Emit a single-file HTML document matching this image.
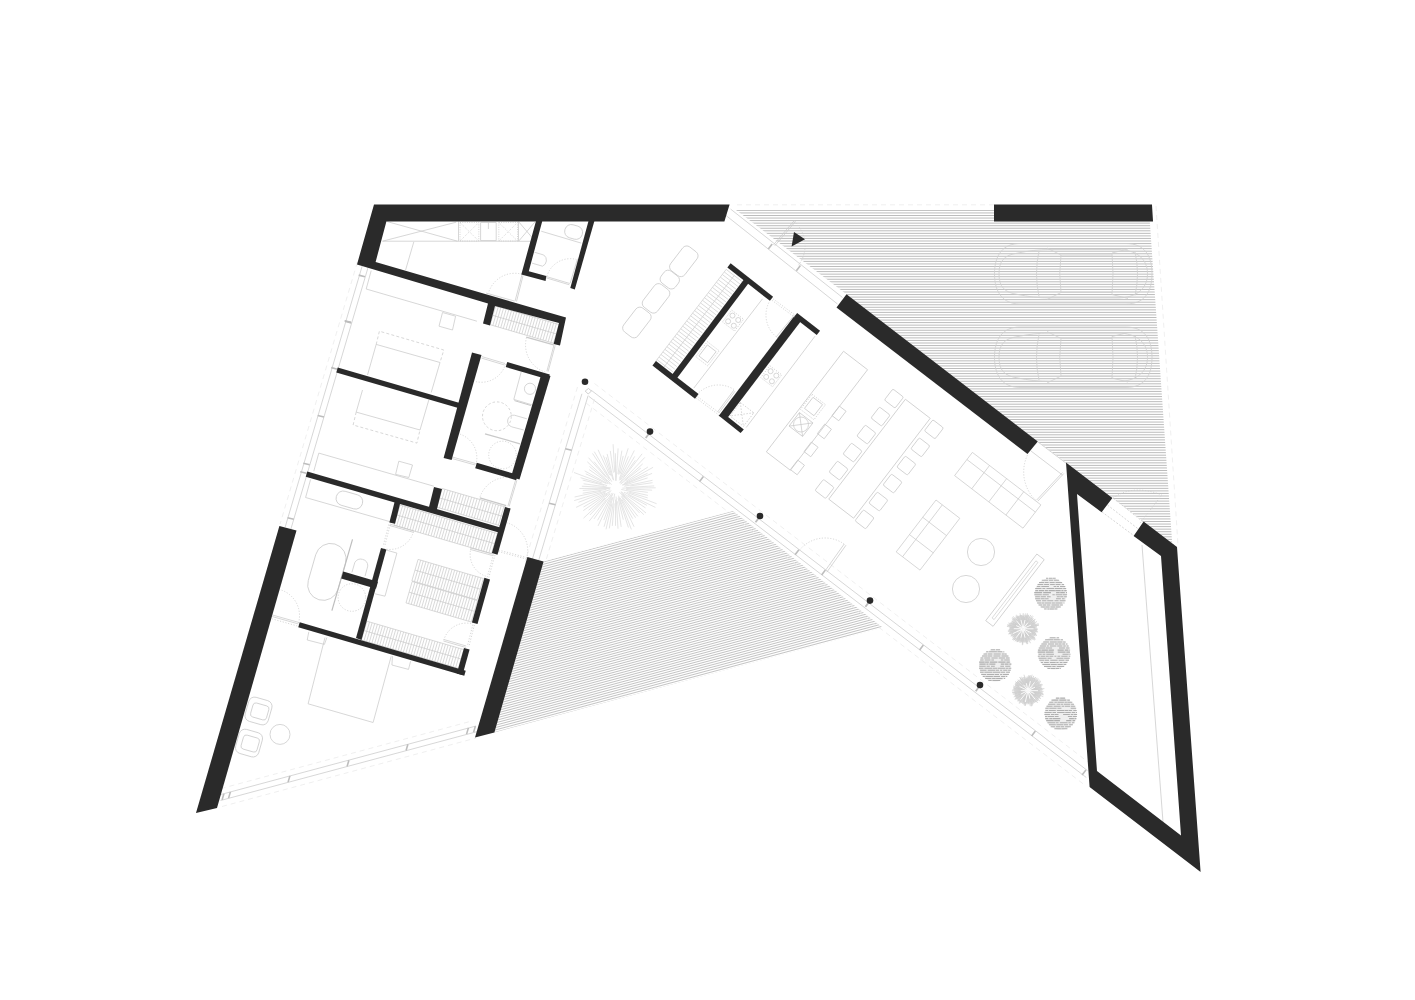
<!DOCTYPE html>
<html><head><meta charset="utf-8"><title>Floor plan</title>
<style>html,body{margin:0;padding:0;background:#fff;}svg{display:block;}</style>
</head><body>
<svg width="1415" height="1000" viewBox="0 0 1415 1000">
<rect width="1415" height="1000" fill="#ffffff"/>
<defs><clipPath id="cA"><polygon points="736.0,210.0 1149.0,210.0 1172.5,548.0 1177.0,547.0 1066.0,462.6 1037.8,441.5 846.5,294.3"/></clipPath><clipPath id="cB"><polygon points="543.6,561.6 733.0,511.0 882.6,627.4 494.4,732.4"/></clipPath></defs>
<path clip-path="url(#cA)" d="M730 210.40H1180M730 212.95H1180M730 215.50H1180M730 218.05H1180M730 220.60H1180M730 223.15H1180M730 225.70H1180M730 228.25H1180M730 230.80H1180M730 233.35H1180M730 235.90H1180M730 238.45H1180M730 241.00H1180M730 243.55H1180M730 246.10H1180M730 248.65H1180M730 251.20H1180M730 253.75H1180M730 256.30H1180M730 258.85H1180M730 261.40H1180M730 263.95H1180M730 266.50H1180M730 269.05H1180M730 271.60H1180M730 274.15H1180M730 276.70H1180M730 279.25H1180M730 281.80H1180M730 284.35H1180M730 286.90H1180M730 289.45H1180M730 292.00H1180M730 294.55H1180M730 297.10H1180M730 299.65H1180M730 302.20H1180M730 304.75H1180M730 307.30H1180M730 309.85H1180M730 312.40H1180M730 314.95H1180M730 317.50H1180M730 320.05H1180M730 322.60H1180M730 325.15H1180M730 327.70H1180M730 330.25H1180M730 332.80H1180M730 335.35H1180M730 337.90H1180M730 340.45H1180M730 343.00H1180M730 345.55H1180M730 348.10H1180M730 350.65H1180M730 353.20H1180M730 355.75H1180M730 358.30H1180M730 360.85H1180M730 363.40H1180M730 365.95H1180M730 368.50H1180M730 371.05H1180M730 373.60H1180M730 376.15H1180M730 378.70H1180M730 381.25H1180M730 383.80H1180M730 386.35H1180M730 388.90H1180M730 391.45H1180M730 394.00H1180M730 396.55H1180M730 399.10H1180M730 401.65H1180M730 404.20H1180M730 406.75H1180M730 409.30H1180M730 411.85H1180M730 414.40H1180M730 416.95H1180M730 419.50H1180M730 422.05H1180M730 424.60H1180M730 427.15H1180M730 429.70H1180M730 432.25H1180M730 434.80H1180M730 437.35H1180M730 439.90H1180M730 442.45H1180M730 445.00H1180M730 447.55H1180M730 450.10H1180M730 452.65H1180M730 455.20H1180M730 457.75H1180M730 460.30H1180M730 462.85H1180M730 465.40H1180M730 467.95H1180M730 470.50H1180M730 473.05H1180M730 475.60H1180M730 478.15H1180M730 480.70H1180M730 483.25H1180M730 485.80H1180M730 488.35H1180M730 490.90H1180M730 493.45H1180M730 496.00H1180M730 498.55H1180M730 501.10H1180M730 503.65H1180M730 506.20H1180M730 508.75H1180M730 511.30H1180M730 513.85H1180M730 516.40H1180M730 518.95H1180M730 521.50H1180M730 524.05H1180M730 526.60H1180M730 529.15H1180M730 531.70H1180M730 534.25H1180M730 536.80H1180M730 539.35H1180M730 541.90H1180M730 544.45H1180M730 547.00H1180M730 549.55H1180" stroke="#b8b8b8" stroke-width="0.95" fill="none"/>
<path clip-path="url(#cB)" d="M331.10 618.84L978.27 445.43M331.68 621.03L978.85 447.62M332.27 623.23L979.44 449.82M332.86 625.42L980.03 452.01M333.45 627.61L980.62 454.20M334.03 629.80L981.20 456.39M334.62 632.00L981.79 458.59M335.21 634.19L982.38 460.78M335.80 636.38L982.97 462.97M336.38 638.57L983.55 465.17M336.97 640.77L984.14 467.36M337.56 642.96L984.73 469.55M338.15 645.15L985.32 471.74M338.73 647.34L985.90 473.94M339.32 649.54L986.49 476.13M339.91 651.73L987.08 478.32M340.50 653.92L987.67 480.51M341.08 656.12L988.25 482.71M341.67 658.31L988.84 484.90M342.26 660.50L989.43 487.09M342.85 662.69L990.02 489.28M343.43 664.89L990.60 491.48M344.02 667.08L991.19 493.67M344.61 669.27L991.78 495.86M345.20 671.46L992.37 498.06M345.78 673.66L992.95 500.25M346.37 675.85L993.54 502.44M346.96 678.04L994.13 504.63M347.55 680.23L994.72 506.83M348.13 682.43L995.30 509.02M348.72 684.62L995.89 511.21M349.31 686.81L996.48 513.40M349.90 689.01L997.07 515.60M350.48 691.20L997.65 517.79M351.07 693.39L998.24 519.98M351.66 695.58L998.83 522.17M352.25 697.78L999.42 524.37M352.83 699.97L1000.00 526.56M353.42 702.16L1000.59 528.75M354.01 704.35L1001.18 530.94M354.60 706.55L1001.77 533.14M355.18 708.74L1002.35 535.33M355.77 710.93L1002.94 537.52M356.36 713.12L1003.53 539.72M356.95 715.32L1004.12 541.91M357.53 717.51L1004.70 544.10M358.12 719.70L1005.29 546.29M358.71 721.89L1005.88 548.49M359.30 724.09L1006.47 550.68M359.88 726.28L1007.06 552.87M360.47 728.47L1007.64 555.06M361.06 730.67L1008.23 557.26M361.65 732.86L1008.82 559.45M362.23 735.05L1009.41 561.64M362.82 737.24L1009.99 563.83M363.41 739.44L1010.58 566.03M364.00 741.63L1011.17 568.22M364.58 743.82L1011.76 570.41M365.17 746.01L1012.34 572.61M365.76 748.21L1012.93 574.80M366.35 750.40L1013.52 576.99M366.93 752.59L1014.11 579.18M367.52 754.78L1014.69 581.38M368.11 756.98L1015.28 583.57M368.70 759.17L1015.87 585.76M369.29 761.36L1016.46 587.95M369.87 763.56L1017.04 590.15M370.46 765.75L1017.63 592.34M371.05 767.94L1018.22 594.53M371.64 770.13L1018.81 596.72M372.22 772.33L1019.39 598.92M372.81 774.52L1019.98 601.11M373.40 776.71L1020.57 603.30M373.99 778.90L1021.16 605.49M374.57 781.10L1021.74 607.69M375.16 783.29L1022.33 609.88M375.75 785.48L1022.92 612.07M376.34 787.67L1023.51 614.27M376.92 789.87L1024.09 616.46M377.51 792.06L1024.68 618.65M378.10 794.25L1025.27 620.84M378.69 796.44L1025.86 623.04M379.27 798.64L1026.44 625.23M379.86 800.83L1027.03 627.42M380.45 803.02L1027.62 629.61M381.04 805.22L1028.21 631.81M381.62 807.41L1028.79 634.00M382.21 809.60L1029.38 636.19M382.80 811.79L1029.97 638.38M383.39 813.99L1030.56 640.58M383.97 816.18L1031.14 642.77M384.56 818.37L1031.73 644.96M385.15 820.56L1032.32 647.16M385.74 822.76L1032.91 649.35M386.32 824.95L1033.49 651.54M386.91 827.14L1034.08 653.73M387.50 829.33L1034.67 655.93M388.09 831.53L1035.26 658.12M388.67 833.72L1035.84 660.31M389.26 835.91L1036.43 662.50M389.85 838.11L1037.02 664.70M390.44 840.30L1037.61 666.89M391.02 842.49L1038.19 669.08M391.61 844.68L1038.78 671.27M392.20 846.88L1039.37 673.47M392.79 849.07L1039.96 675.66M393.37 851.26L1040.54 677.85M393.96 853.45L1041.13 680.05M394.55 855.65L1041.72 682.24M395.14 857.84L1042.31 684.43M395.72 860.03L1042.89 686.62M396.31 862.22L1043.48 688.82M396.90 864.42L1044.07 691.01M397.49 866.61L1044.66 693.20M398.07 868.80L1045.24 695.39" stroke="#bcbcbc" stroke-width="0.90" fill="none"/>
<line x1="382.5" y1="241.2" x2="516.9" y2="241.2" stroke="#c9c9c9" stroke-width="0.75"/>
<line x1="517.0" y1="241.3" x2="532.0" y2="241.3" stroke="#c9c9c9" stroke-width="0.75"/>
<line x1="386.9" y1="221.5" x2="457.5" y2="241.2" stroke="#c9c9c9" stroke-width="0.75"/>
<line x1="382.5" y1="241.2" x2="456.2" y2="222.2" stroke="#c9c9c9" stroke-width="0.75"/>
<line x1="458.5" y1="221.5" x2="458.5" y2="241.2" stroke="#c9c9c9" stroke-width="0.75"/>
<polygon points="460.0,222.5 478.8,222.5 478.8,241.0 460.0,241.0" fill="none" stroke="#c9c9c9" stroke-width="0.75" stroke-dasharray="1 1.3"/>
<line x1="460.0" y1="222.5" x2="478.8" y2="241.0" stroke="#c9c9c9" stroke-width="0.75" stroke-dasharray="1 1.3"/>
<line x1="460.0" y1="241.0" x2="478.8" y2="222.5" stroke="#c9c9c9" stroke-width="0.75" stroke-dasharray="1 1.3"/>
<polygon points="498.8,222.5 517.5,222.5 517.5,241.0 498.8,241.0" fill="none" stroke="#c9c9c9" stroke-width="0.75" stroke-dasharray="1 1.3"/>
<line x1="498.8" y1="222.5" x2="517.5" y2="241.0" stroke="#c9c9c9" stroke-width="0.75" stroke-dasharray="1 1.3"/>
<line x1="498.8" y1="241.0" x2="517.5" y2="222.5" stroke="#c9c9c9" stroke-width="0.75" stroke-dasharray="1 1.3"/>
<polygon points="480.6,222.5 496.2,222.5 496.2,240.6 480.6,240.6" fill="none" stroke="#c9c9c9" stroke-width="0.75"/>
<line x1="488.4" y1="222.5" x2="488.4" y2="229.0" stroke="#c9c9c9" stroke-width="0.75"/>
<line x1="518.8" y1="221.9" x2="535.0" y2="241.0" stroke="#c9c9c9" stroke-width="0.75"/>
<line x1="518.8" y1="241.0" x2="535.0" y2="221.9" stroke="#c9c9c9" stroke-width="0.75"/>
<line x1="518.5" y1="221.5" x2="518.5" y2="241.2" stroke="#c9c9c9" stroke-width="0.75"/>
<line x1="413.8" y1="241.9" x2="405.6" y2="270.0" stroke="#c9c9c9" stroke-width="0.75"/>
<line x1="541.2" y1="231.2" x2="581.2" y2="243.1" stroke="#c9c9c9" stroke-width="0.75"/>
<rect x="-9.0" y="-6.8" width="18.0" height="13.5" rx="6.5" transform="translate(573.6 232.0) rotate(16.0)" fill="none" stroke="#c9c9c9" stroke-width="0.75"/>
<path d="M534.4 252.2 L543.8 255.0 A6.5 6.5 0 0 1 542.5 266.2 L531.9 263.1" fill="none" stroke="#c9c9c9" stroke-width="0.75"/>
<path d="M546.9 276.2A24.4 24.4 0 0 1 576.2 259.4" fill="none" stroke="#c9c9c9" stroke-width="0.75" stroke-dasharray="1.2 1.6"/>
<line x1="546.2" y1="276.5" x2="569.8" y2="283.5" stroke="#c9c9c9" stroke-width="0.75"/>
<line x1="546.0" y1="277.8" x2="569.4" y2="284.8" stroke="#c9c9c9" stroke-width="0.75"/>
<line x1="577.5" y1="258.8" x2="570.2" y2="283.1" stroke="#c9c9c9" stroke-width="0.75"/>
<path d="M521.9 274.2A27.5 27.5 0 0 0 488.5 292.8" fill="none" stroke="#c9c9c9" stroke-width="0.75" stroke-dasharray="1.2 1.6"/>
<line x1="521.9" y1="275.0" x2="515.0" y2="301.2" stroke="#c9c9c9" stroke-width="0.75"/>
<line x1="523.1" y1="275.4" x2="516.5" y2="301.5" stroke="#c9c9c9" stroke-width="0.75"/>
<line x1="486.2" y1="293.1" x2="514.4" y2="301.0" stroke="#c9c9c9" stroke-width="0.75"/>
<line x1="362.2" y1="266.0" x2="285.2" y2="527.0" stroke="#c9c9c9" stroke-width="0.75"/>
<line x1="368.2" y1="267.0" x2="290.9" y2="529.0" stroke="#c9c9c9" stroke-width="0.75"/>
<line x1="357.4" y1="262.0" x2="280.1" y2="524.0" stroke="#e9e9e9" stroke-width="0.75" stroke-dasharray="5 4"/>
<line x1="345.0" y1="321.3" x2="351.3" y2="322.9" stroke="#bdbdbd" stroke-width="1.60"/>
<line x1="331.2" y1="367.6" x2="337.5" y2="369.2" stroke="#bdbdbd" stroke-width="1.60"/>
<line x1="317.7" y1="415.5" x2="324.0" y2="417.0" stroke="#bdbdbd" stroke-width="1.60"/>
<line x1="303.3" y1="463.2" x2="309.7" y2="464.8" stroke="#bdbdbd" stroke-width="1.60"/>
<line x1="300.2" y1="471.7" x2="306.5" y2="473.3" stroke="#bdbdbd" stroke-width="1.60"/>
<line x1="358.7" y1="275.1" x2="365.0" y2="276.7" stroke="#bdbdbd" stroke-width="1.60"/>
<line x1="344.6" y1="320.7" x2="350.9" y2="322.3" stroke="#bdbdbd" stroke-width="1.60"/>
<polyline points="371.2,270.6 366.2,289.0 476.9,321.2" fill="none" stroke="#c9c9c9" stroke-width="0.75"/>
<polygon points="442.5,312.5 439.0,326.2 452.5,330.0 455.6,316.2" fill="none" stroke="#c9c9c9" stroke-width="0.75"/>
<polyline points="376.2,344.4 379.4,331.2 443.8,350.0 440.0,362.5" fill="none" stroke="#c9c9c9" stroke-width="0.75" stroke-dasharray="3 2.2"/>
<polyline points="367.5,375.0 376.2,344.4 440.0,362.5 431.2,392.5" fill="none" stroke="#c9c9c9" stroke-width="0.75"/>
<polyline points="362.5,390.0 356.2,412.1 420.0,430.0 428.8,400.0" fill="none" stroke="#c9c9c9" stroke-width="0.75"/>
<polyline points="356.2,412.1 353.1,425.0 416.9,443.1 420.0,430.0" fill="none" stroke="#c9c9c9" stroke-width="0.75" stroke-dasharray="3 2.2"/>
<polyline points="313.8,471.2 318.8,453.1 433.8,486.2" fill="none" stroke="#c9c9c9" stroke-width="0.75"/>
<polygon points="398.8,461.2 412.5,465.0 408.8,477.5 395.6,474.4" fill="none" stroke="#c9c9c9" stroke-width="0.75"/>
<polyline points="310.6,479.4 305.6,497.5 395.0,523.1" fill="none" stroke="#c9c9c9" stroke-width="0.75"/>
<rect x="-13.5" y="-7.2" width="27.0" height="14.5" rx="7.0" transform="translate(349.4 500.0) rotate(16.0)" fill="none" stroke="#c9c9c9" stroke-width="0.75"/>
<path d="M495.6 306.0L490.2 324.7M498.3 306.8L492.8 325.5M500.9 307.5L495.4 326.3M503.5 308.3L498.1 327.0M506.2 309.1L500.7 327.8M508.8 309.9L503.3 328.6M511.5 310.6L506.0 329.3M514.1 311.4L508.6 330.1M516.7 312.2L511.3 330.9M519.4 312.9L513.9 331.7M522.0 313.7L516.5 332.4M524.7 314.5L519.2 333.2M527.3 315.3L521.8 334.0M529.9 316.0L524.5 334.8M532.6 316.8L527.1 335.5M535.2 317.6L529.7 336.3M537.9 318.4L532.4 337.1M540.5 319.1L535.0 337.8M543.1 319.9L537.7 338.6M545.8 320.7L540.3 339.4M548.4 321.4L542.9 340.2M551.1 322.2L545.6 340.9M553.7 323.0L548.2 341.7M556.3 323.8L550.9 342.5M559.0 324.5L553.5 343.2" fill="none" stroke="#c9c9c9" stroke-width="0.70"/>
<line x1="492.9" y1="315.4" x2="556.2" y2="333.9" stroke="#c9c9c9" stroke-width="0.70"/>
<line x1="490.2" y1="324.7" x2="553.5" y2="343.2" stroke="#c9c9c9" stroke-width="0.70"/>
<line x1="495.6" y1="306.0" x2="559.0" y2="324.5" stroke="#c9c9c9" stroke-width="0.70"/>
<line x1="447.5" y1="290.0" x2="481.9" y2="300.0" stroke="#c9c9c9" stroke-width="0.75"/>
<path d="M526.5 337.6A28.5 28.5 0 0 0 546.6 372.5" fill="none" stroke="#c9c9c9" stroke-width="0.75" stroke-dasharray="1.2 1.6"/>
<line x1="554.0" y1="345.0" x2="546.9" y2="371.2" stroke="#c9c9c9" stroke-width="0.75"/>
<line x1="555.2" y1="345.4" x2="548.1" y2="371.6" stroke="#c9c9c9" stroke-width="0.75"/>
<line x1="526.2" y1="337.2" x2="553.8" y2="344.8" stroke="#c9c9c9" stroke-width="1.40"/>
<path d="M505.5 364.1A25.0 25.0 0 0 1 475.0 381.4" fill="none" stroke="#c9c9c9" stroke-width="0.75" stroke-dasharray="1.2 1.6"/>
<line x1="481.9" y1="356.6" x2="505.0" y2="363.5" stroke="#c9c9c9" stroke-width="0.75"/>
<line x1="481.5" y1="358.1" x2="504.6" y2="365.0" stroke="#c9c9c9" stroke-width="0.75"/>
<polyline points="521.2,371.9 513.8,399.4 531.9,404.8" fill="none" stroke="#c9c9c9" stroke-width="0.75"/>
<ellipse rx="5.6" ry="5.6" transform="translate(530.0 388.8) rotate(0.0)" fill="none" stroke="#c9c9c9" stroke-width="0.75"/>
<ellipse rx="14.4" ry="14.4" transform="translate(496.9 416.3) rotate(0.0)" fill="none" stroke="#c9c9c9" stroke-width="0.75" stroke-dasharray="2.5 2"/>
<ellipse rx="13.8" ry="13.8" transform="translate(502.5 455.0) rotate(0.0)" fill="none" stroke="#c9c9c9" stroke-width="0.75" stroke-dasharray="1.2 1.6"/>
<line x1="485.0" y1="433.8" x2="520.0" y2="443.8" stroke="#c9c9c9" stroke-width="1.20"/>
<line x1="514.4" y1="400.6" x2="531.2" y2="405.6" stroke="#c9c9c9" stroke-width="1.00"/>
<path d="M526.9 418.8 L514.4 415.2 A6 6 0 0 0 511.9 426.9 L523.8 430.0" fill="none" stroke="#c9c9c9" stroke-width="0.75"/>
<path d="M475.9 464.6A25.0 25.0 0 0 0 459.6 434.0" fill="none" stroke="#c9c9c9" stroke-width="0.75" stroke-dasharray="1.2 1.6"/>
<line x1="451.9" y1="456.9" x2="475.6" y2="463.5" stroke="#c9c9c9" stroke-width="0.75"/>
<line x1="451.5" y1="458.4" x2="475.2" y2="465.0" stroke="#c9c9c9" stroke-width="0.75"/>
<path d="M515.0 478.3A29.0 29.0 0 0 0 479.9 497.3" fill="none" stroke="#c9c9c9" stroke-width="0.75" stroke-dasharray="1.2 1.6"/>
<line x1="515.6" y1="480.0" x2="507.9" y2="506.2" stroke="#c9c9c9" stroke-width="0.75"/>
<line x1="516.9" y1="480.4" x2="509.1" y2="506.6" stroke="#c9c9c9" stroke-width="0.75"/>
<line x1="479.8" y1="497.8" x2="506.2" y2="505.6" stroke="#c9c9c9" stroke-width="1.40"/>
<path d="M442.2 488.5L436.8 507.2M444.9 489.3L439.5 508.0M447.6 490.1L442.1 508.8M450.3 490.9L444.8 509.6M453.0 491.6L447.5 510.4M455.6 492.4L450.2 511.1M458.3 493.2L452.9 511.9M461.0 494.0L455.5 512.7M463.7 494.8L458.2 513.5M466.4 495.6L460.9 514.3M469.0 496.3L463.6 515.1M471.7 497.1L466.3 515.8M474.4 497.9L468.9 516.6M477.1 498.7L471.6 517.4M479.8 499.5L474.3 518.2M482.4 500.3L477.0 519.0M485.1 501.0L479.6 519.8M487.8 501.8L482.3 520.5M490.5 502.6L485.0 521.3M493.2 503.4L487.7 522.1M495.8 504.2L490.4 522.9M498.5 505.0L493.0 523.7M501.2 505.7L495.7 524.5M503.9 506.5L498.4 525.2M506.6 507.3L501.1 526.0" fill="none" stroke="#c9c9c9" stroke-width="0.70"/>
<line x1="439.5" y1="497.9" x2="503.8" y2="516.7" stroke="#c9c9c9" stroke-width="0.70"/>
<line x1="436.8" y1="507.2" x2="501.1" y2="526.0" stroke="#c9c9c9" stroke-width="0.70"/>
<line x1="442.2" y1="488.5" x2="506.6" y2="507.3" stroke="#c9c9c9" stroke-width="0.70"/>
<line x1="581.9" y1="393.8" x2="531.5" y2="562.0" stroke="#c9c9c9" stroke-width="0.75"/>
<line x1="588.1" y1="395.6" x2="538.2" y2="562.0" stroke="#c9c9c9" stroke-width="0.75"/>
<line x1="565.3" y1="448.7" x2="571.7" y2="450.3" stroke="#bdbdbd" stroke-width="1.60"/>
<line x1="549.1" y1="503.2" x2="555.5" y2="504.8" stroke="#bdbdbd" stroke-width="1.60"/>
<line x1="287.5" y1="517.7" x2="293.8" y2="519.3" stroke="#bdbdbd" stroke-width="1.60"/>
<rect x="-15.5" y="-29.0" width="31.0" height="58.0" rx="15.5" transform="translate(326.9 571.9) rotate(16.0)" fill="none" stroke="#c9c9c9" stroke-width="0.75"/>
<line x1="352.5" y1="539.4" x2="331.9" y2="610.6" stroke="#bdbdbd" stroke-width="1.20"/>
<path d="M351.9 572.5 L354.8 562.5 A7 7 0 0 1 367.8 566.0 L365.0 576.2" fill="none" stroke="#c9c9c9" stroke-width="0.75"/>
<ellipse rx="13.8" ry="13.8" transform="translate(351.9 597.5) rotate(0.0)" fill="none" stroke="#c9c9c9" stroke-width="0.75" stroke-dasharray="1.2 1.6"/>
<path d="M298.5 623.0A27.0 27.0 0 0 0 279.9 589.6" fill="none" stroke="#c9c9c9" stroke-width="0.75" stroke-dasharray="1.2 1.6"/>
<line x1="272.5" y1="615.0" x2="299.0" y2="622.5" stroke="#c9c9c9" stroke-width="0.75"/>
<line x1="272.1" y1="616.5" x2="298.6" y2="624.0" stroke="#c9c9c9" stroke-width="0.75"/>
<line x1="271.9" y1="618.8" x2="298.1" y2="626.2" stroke="#c9c9c9" stroke-width="0.75" stroke-dasharray="1.2 1.6"/>
<path d="M413.5 531.7A24.4 24.4 0 0 1 383.3 548.5" fill="none" stroke="#c9c9c9" stroke-width="0.75" stroke-dasharray="1.2 1.6"/>
<line x1="390.0" y1="524.1" x2="414.0" y2="531.0" stroke="#c9c9c9" stroke-width="0.75"/>
<line x1="389.6" y1="525.5" x2="413.6" y2="532.4" stroke="#c9c9c9" stroke-width="0.75"/>
<line x1="388.8" y1="524.4" x2="383.1" y2="546.2" stroke="#c9c9c9" stroke-width="0.75" stroke-dasharray="1.2 1.6"/>
<line x1="390.2" y1="524.8" x2="384.6" y2="546.6" stroke="#c9c9c9" stroke-width="0.75" stroke-dasharray="1.2 1.6"/>
<polyline points="386.2,550.0 396.9,553.1 385.0,596.2 375.0,593.8" fill="none" stroke="#c9c9c9" stroke-width="0.75"/>
<path d="M400.0 505.0L394.1 525.2M402.6 505.8L396.7 525.9M405.3 506.5L399.4 526.7M407.9 507.3L402.0 527.5M410.5 508.1L404.6 528.2M413.2 508.9L407.3 529.0M415.8 509.6L409.9 529.8M418.4 510.4L412.5 530.5M421.1 511.2L415.2 531.3M423.7 511.9L417.8 532.1M426.3 512.7L420.4 532.9M429.0 513.5L423.1 533.6M431.6 514.2L425.7 534.4M434.2 515.0L428.3 535.2M436.9 515.8L431.0 535.9M439.5 516.6L433.6 536.7M442.1 517.3L436.2 537.5M444.8 518.1L438.9 538.2M447.4 518.9L441.5 539.0M450.0 519.6L444.1 539.8M452.7 520.4L446.8 540.6M455.3 521.2L449.4 541.3M457.9 521.9L452.0 542.1M460.6 522.7L454.7 542.9M463.2 523.5L457.3 543.6M465.8 524.3L459.9 544.4M468.5 525.0L462.6 545.2M471.1 525.8L465.2 545.9M473.7 526.6L467.8 546.7M476.4 527.3L470.5 547.5M479.0 528.1L473.1 548.3M481.6 528.9L475.7 549.0M484.3 529.6L478.4 549.8M486.9 530.4L481.0 550.6M489.5 531.2L483.6 551.3M492.2 532.0L486.3 552.1M494.8 532.7L488.9 552.9M497.4 533.5L491.5 553.6" fill="none" stroke="#c9c9c9" stroke-width="0.70"/>
<line x1="397.1" y1="515.1" x2="494.5" y2="543.6" stroke="#c9c9c9" stroke-width="0.70"/>
<line x1="394.1" y1="525.2" x2="491.5" y2="553.6" stroke="#c9c9c9" stroke-width="0.70"/>
<line x1="400.0" y1="505.0" x2="497.4" y2="533.5" stroke="#c9c9c9" stroke-width="0.70"/>
<path d="M418.1 559.4L411.9 580.8M420.7 560.1L414.5 581.5M423.3 560.9L417.1 582.3M426.0 561.7L419.7 583.1M428.6 562.4L422.3 583.8M431.2 563.2L424.9 584.6M433.8 564.0L427.5 585.4M436.4 564.7L430.1 586.1M439.0 565.5L432.8 586.9M441.6 566.2L435.4 587.7M444.2 567.0L438.0 588.4M446.8 567.8L440.6 589.2M449.5 568.5L443.2 589.9M452.1 569.3L445.8 590.7M454.7 570.1L448.4 591.5M457.3 570.8L451.0 592.2M459.9 571.6L453.6 593.0M462.5 572.4L456.2 593.8M465.1 573.1L458.9 594.5M467.7 573.9L461.5 595.3M470.3 574.6L464.1 596.0M472.9 575.4L466.7 596.8M475.6 576.2L469.3 597.6M478.2 576.9L471.9 598.3M480.8 577.7L474.5 599.1M483.4 578.5L477.1 599.9" fill="none" stroke="#c9c9c9" stroke-width="0.70"/>
<line x1="415.0" y1="570.1" x2="480.3" y2="589.2" stroke="#c9c9c9" stroke-width="0.70"/>
<line x1="411.9" y1="580.8" x2="477.1" y2="599.9" stroke="#c9c9c9" stroke-width="0.70"/>
<line x1="418.1" y1="559.4" x2="483.4" y2="578.5" stroke="#c9c9c9" stroke-width="0.70"/>
<path d="M412.2 581.5L406.0 602.9M414.9 582.3L408.6 603.7M417.5 583.0L411.2 604.4M420.1 583.8L413.8 605.2M422.7 584.6L416.4 606.0M425.3 585.3L419.0 606.7M427.9 586.1L421.7 607.5M430.5 586.8L424.3 608.2M433.1 587.6L426.9 609.0M435.7 588.4L429.5 609.8M438.4 589.1L432.1 610.5M441.0 589.9L434.7 611.3M443.6 590.7L437.3 612.1M446.2 591.4L439.9 612.8M448.8 592.2L442.5 613.6M451.4 593.0L445.2 614.4M454.0 593.7L447.8 615.1M456.6 594.5L450.4 615.9M459.2 595.2L453.0 616.6M461.9 596.0L455.6 617.4M464.5 596.8L458.2 618.2M467.1 597.5L460.8 618.9M469.7 598.3L463.4 619.7M472.3 599.1L466.0 620.5M474.9 599.8L468.6 621.2M477.5 600.6L471.3 622.0" fill="none" stroke="#c9c9c9" stroke-width="0.70"/>
<line x1="409.1" y1="592.2" x2="474.4" y2="611.3" stroke="#c9c9c9" stroke-width="0.70"/>
<line x1="406.0" y1="602.9" x2="471.3" y2="622.0" stroke="#c9c9c9" stroke-width="0.70"/>
<line x1="412.2" y1="581.5" x2="477.5" y2="600.6" stroke="#c9c9c9" stroke-width="0.70"/>
<path d="M506.3 522.6A29.0 29.0 0 0 1 526.6 558.6" fill="none" stroke="#c9c9c9" stroke-width="0.75" stroke-dasharray="1.2 1.6"/>
<line x1="498.8" y1="550.0" x2="527.5" y2="557.8" stroke="#c9c9c9" stroke-width="0.75" stroke-dasharray="1.2 1.6"/>
<line x1="498.4" y1="551.5" x2="527.1" y2="559.2" stroke="#c9c9c9" stroke-width="0.75" stroke-dasharray="1.2 1.6"/>
<path d="M471.0 548.1A23.0 23.0 0 0 0 486.8 576.5" fill="none" stroke="#c9c9c9" stroke-width="0.75" stroke-dasharray="1.2 1.6"/>
<line x1="470.6" y1="547.9" x2="493.1" y2="554.1" stroke="#c9c9c9" stroke-width="0.75"/>
<line x1="470.2" y1="549.4" x2="492.8" y2="555.6" stroke="#c9c9c9" stroke-width="0.75"/>
<line x1="495.0" y1="555.0" x2="488.8" y2="577.5" stroke="#c9c9c9" stroke-width="0.75" stroke-dasharray="1.2 1.6"/>
<line x1="493.5" y1="554.6" x2="487.2" y2="577.1" stroke="#c9c9c9" stroke-width="0.75" stroke-dasharray="1.2 1.6"/>
<polyline points="325.0,637.5 308.1,703.8 373.1,722.5 391.2,656.2" fill="none" stroke="#c9c9c9" stroke-width="0.75"/>
<polyline points="308.8,631.9 307.2,640.0 324.4,644.4 326.9,637.5" fill="none" stroke="#c9c9c9" stroke-width="0.75"/>
<polyline points="392.5,656.2 391.9,665.0 408.5,669.4 410.6,661.2" fill="none" stroke="#c9c9c9" stroke-width="0.75"/>
<path d="M366.9 621.2L361.4 640.0M369.5 622.0L364.0 640.7M372.1 622.8L366.6 641.5M374.7 623.5L369.3 642.3M377.4 624.3L371.9 643.0M380.0 625.1L374.5 643.8M382.6 625.8L377.1 644.6M385.2 626.6L379.7 645.3M387.8 627.4L382.4 646.1M390.5 628.1L385.0 646.9M393.1 628.9L387.6 647.6M395.7 629.7L390.2 648.4M398.3 630.4L392.8 649.2M400.9 631.2L395.5 649.9M403.6 632.0L398.1 650.7M406.2 632.7L400.7 651.5M408.8 633.5L403.3 652.2M411.4 634.3L405.9 653.0M414.0 635.0L408.6 653.8M416.7 635.8L411.2 654.5M419.3 636.6L413.8 655.3M421.9 637.3L416.4 656.1M424.5 638.1L419.0 656.8M427.1 638.9L421.7 657.6M429.8 639.6L424.3 658.4M432.4 640.4L426.9 659.1M435.0 641.2L429.5 659.9M437.6 641.9L432.1 660.7M440.2 642.7L434.8 661.4M442.9 643.5L437.4 662.2M445.5 644.2L440.0 663.0M448.1 645.0L442.6 663.7M450.7 645.8L445.2 664.5M453.3 646.5L447.9 665.3M456.0 647.3L450.5 666.0M458.6 648.1L453.1 666.8M461.2 648.8L455.7 667.6M463.8 649.6L458.3 668.3" fill="none" stroke="#c9c9c9" stroke-width="0.70"/>
<line x1="364.1" y1="630.6" x2="461.1" y2="659.0" stroke="#c9c9c9" stroke-width="0.70"/>
<line x1="361.4" y1="640.0" x2="458.3" y2="668.3" stroke="#c9c9c9" stroke-width="0.70"/>
<line x1="366.9" y1="621.2" x2="463.8" y2="649.6" stroke="#c9c9c9" stroke-width="0.70"/>
<path d="M443.8 640.1A23.4 23.4 0 0 1 472.7 624.0" fill="none" stroke="#c9c9c9" stroke-width="0.75" stroke-dasharray="1.2 1.6"/>
<line x1="443.8" y1="639.5" x2="466.2" y2="646.0" stroke="#c9c9c9" stroke-width="0.75"/>
<line x1="443.4" y1="641.0" x2="465.9" y2="647.5" stroke="#c9c9c9" stroke-width="0.75"/>
<line x1="474.4" y1="625.0" x2="468.8" y2="646.9" stroke="#c9c9c9" stroke-width="0.75" stroke-dasharray="1.2 1.6"/>
<line x1="472.9" y1="624.6" x2="467.2" y2="646.5" stroke="#c9c9c9" stroke-width="0.75" stroke-dasharray="1.2 1.6"/>
<rect x="-12.0" y="-12.5" width="24.0" height="25.0" rx="6.0" transform="translate(258.5 711.0) rotate(16.0)" fill="none" stroke="#c9c9c9" stroke-width="0.75"/>
<rect x="-8.2" y="-7.2" width="16.5" height="14.5" rx="3.0" transform="translate(259.7 711.4) rotate(16.0)" fill="none" stroke="#c9c9c9" stroke-width="0.75"/>
<rect x="-12.0" y="-12.5" width="24.0" height="25.0" rx="6.0" transform="translate(249.0 743.1) rotate(16.0)" fill="none" stroke="#c9c9c9" stroke-width="0.75"/>
<rect x="-8.2" y="-7.2" width="16.5" height="14.5" rx="3.0" transform="translate(250.2 743.5) rotate(16.0)" fill="none" stroke="#c9c9c9" stroke-width="0.75"/>
<ellipse rx="10.0" ry="10.0" transform="translate(280.0 734.4) rotate(0.0)" fill="none" stroke="#c9c9c9" stroke-width="0.75"/>
<line x1="219.0" y1="795.0" x2="476.0" y2="726.0" stroke="#c9c9c9" stroke-width="0.75"/>
<line x1="220.5" y1="800.5" x2="477.5" y2="731.5" stroke="#c9c9c9" stroke-width="0.75"/>
<line x1="212.0" y1="791.0" x2="470.0" y2="721.5" stroke="#e9e9e9" stroke-width="0.75" stroke-dasharray="5 4"/>
<line x1="222.0" y1="806.5" x2="476.0" y2="738.0" stroke="#e9e9e9" stroke-width="0.75" stroke-dasharray="5 4"/>
<line x1="223.9" y1="793.7" x2="222.1" y2="799.9" stroke="#bdbdbd" stroke-width="1.60"/>
<line x1="230.4" y1="791.9" x2="228.6" y2="798.1" stroke="#bdbdbd" stroke-width="1.60"/>
<line x1="289.9" y1="775.9" x2="288.1" y2="782.1" stroke="#bdbdbd" stroke-width="1.60"/>
<line x1="348.9" y1="760.2" x2="347.1" y2="766.4" stroke="#bdbdbd" stroke-width="1.60"/>
<line x1="407.9" y1="744.3" x2="406.1" y2="750.5" stroke="#bdbdbd" stroke-width="1.60"/>
<line x1="468.4" y1="727.9" x2="466.6" y2="734.1" stroke="#bdbdbd" stroke-width="1.60"/>
<line x1="475.4" y1="726.1" x2="473.6" y2="732.3" stroke="#bdbdbd" stroke-width="1.60"/>
<line x1="591.3" y1="390.3" x2="1087.5" y2="770.6" stroke="#c9c9c9" stroke-width="0.75"/>
<line x1="588.8" y1="396.3" x2="1086.3" y2="777.5" stroke="#c9c9c9" stroke-width="0.75"/>
<line x1="594.5" y1="383.5" x2="1090.0" y2="763.5" stroke="#e9e9e9" stroke-width="0.75" stroke-dasharray="5 4"/>
<line x1="586.0" y1="403.0" x2="1084.0" y2="784.5" stroke="#e9e9e9" stroke-width="0.75" stroke-dasharray="5 4"/>
<line x1="649.7" y1="432.8" x2="645.7" y2="438.0" stroke="#bdbdbd" stroke-width="1.80"/>
<line x1="759.5" y1="517.1" x2="755.5" y2="522.3" stroke="#bdbdbd" stroke-width="1.80"/>
<line x1="869.4" y1="601.6" x2="865.4" y2="606.8" stroke="#bdbdbd" stroke-width="1.80"/>
<line x1="979.7" y1="686.0" x2="975.7" y2="691.2" stroke="#bdbdbd" stroke-width="1.80"/>
<line x1="703.4" y1="476.5" x2="699.6" y2="481.5" stroke="#bdbdbd" stroke-width="1.60"/>
<line x1="798.9" y1="549.8" x2="795.1" y2="554.8" stroke="#bdbdbd" stroke-width="1.60"/>
<line x1="825.4" y1="570.0" x2="821.6" y2="575.0" stroke="#bdbdbd" stroke-width="1.60"/>
<line x1="923.4" y1="645.0" x2="919.6" y2="650.0" stroke="#bdbdbd" stroke-width="1.60"/>
<line x1="1035.4" y1="731.0" x2="1031.6" y2="736.0" stroke="#bdbdbd" stroke-width="1.60"/>
<line x1="1085.9" y1="770.0" x2="1082.1" y2="775.0" stroke="#bdbdbd" stroke-width="1.60"/>
<polygon points="585.2,391.0 588.5,388.5 591.5,391.0 588.2,394.0" fill="none" stroke="#c0c0c0" stroke-width="0.75"/>
<path d="M844.2 544.1A33.0 33.0 0 0 0 799.2 550.5" fill="none" stroke="#c9c9c9" stroke-width="0.75" stroke-dasharray="1.2 1.6"/>
<line x1="825.0" y1="571.0" x2="844.2" y2="544.0" stroke="#c9c9c9" stroke-width="0.75"/>
<line x1="826.8" y1="572.2" x2="846.0" y2="545.2" stroke="#c9c9c9" stroke-width="0.75"/>
<line x1="577.5" y1="387.0" x2="525.0" y2="562.0" stroke="#e9e9e9" stroke-width="0.75" stroke-dasharray="5 4"/>
<line x1="594.5" y1="399.0" x2="545.5" y2="562.0" stroke="#e9e9e9" stroke-width="0.75" stroke-dasharray="5 4"/>
<line x1="730.5" y1="209.0" x2="842.5" y2="297.5" stroke="#c9c9c9" stroke-width="0.75"/>
<line x1="726.0" y1="215.5" x2="837.5" y2="304.0" stroke="#c9c9c9" stroke-width="0.75"/>
<line x1="772.2" y1="243.9" x2="768.3" y2="249.1" stroke="#bdbdbd" stroke-width="1.60"/>
<line x1="800.4" y1="265.5" x2="796.4" y2="270.7" stroke="#bdbdbd" stroke-width="1.60"/>
<path d="M793.7 221.1A32.0 32.0 0 0 1 798.3 265.3" fill="none" stroke="#c9c9c9" stroke-width="0.75" stroke-dasharray="1.2 1.6"/>
<line x1="773.5" y1="244.8" x2="794.4" y2="220.4" stroke="#c9c9c9" stroke-width="0.75"/>
<line x1="774.8" y1="245.8" x2="795.6" y2="221.4" stroke="#c9c9c9" stroke-width="0.75"/>
<line x1="737.0" y1="204.8" x2="994.0" y2="204.8" stroke="#e9e9e9" stroke-width="0.75" stroke-dasharray="5 4"/>
<line x1="1156.0" y1="206.0" x2="1178.0" y2="545.0" stroke="#e9e9e9" stroke-width="0.75" stroke-dasharray="5 4"/>
<line x1="1038.0" y1="442.0" x2="1066.3" y2="463.4" stroke="#c9c9c9" stroke-width="0.75"/>
<line x1="1031.0" y1="451.0" x2="1062.5" y2="475.0" stroke="#c9c9c9" stroke-width="0.75"/>
<path d="M1027.4 455.2A39.4 39.4 0 0 0 1036.5 501.0" fill="none" stroke="#c9c9c9" stroke-width="0.75" stroke-dasharray="1.2 1.6"/>
<line x1="1062.5" y1="472.5" x2="1036.5" y2="500.2" stroke="#c9c9c9" stroke-width="0.75"/>
<line x1="1063.8" y1="473.5" x2="1037.8" y2="501.2" stroke="#c9c9c9" stroke-width="0.75"/>
<line x1="1113.1" y1="498.1" x2="1143.8" y2="522.5" stroke="#c9c9c9" stroke-width="0.75" stroke-dasharray="2 1.6"/>
<line x1="1107.5" y1="505.0" x2="1138.8" y2="529.4" stroke="#c9c9c9" stroke-width="0.75" stroke-dasharray="2 1.6"/>
<line x1="1101.9" y1="511.9" x2="1133.8" y2="535.6" stroke="#c9c9c9" stroke-width="0.75" stroke-dasharray="2 1.6"/>
<line x1="1140.0" y1="523.1" x2="1161.9" y2="495.0" stroke="#c9c9c9" stroke-width="0.75" stroke-dasharray="1.2 1.6"/>
<path d="M1113.1 498.1 Q1132.5 483.8 1161.9 495.0" fill="none" stroke="#c9c9c9" stroke-width="0.75" stroke-dasharray="1.2 1.6"/>
<line x1="1142.0" y1="545.0" x2="1163.0" y2="822.0" stroke="#c9c9c9" stroke-width="0.75"/>
<rect x="-15.0" y="-9.0" width="30.0" height="18.0" rx="5.0" transform="translate(683.8 261.3) rotate(-52.5)" fill="none" stroke="#c9c9c9" stroke-width="0.75"/>
<rect x="-7.5" y="-9.0" width="15.0" height="18.0" rx="5.0" transform="translate(669.8 279.6) rotate(-52.5)" fill="none" stroke="#c9c9c9" stroke-width="0.75"/>
<rect x="-14.2" y="-9.0" width="28.5" height="18.0" rx="5.0" transform="translate(656.0 298.4) rotate(-52.5)" fill="none" stroke="#c9c9c9" stroke-width="0.75"/>
<rect x="-15.0" y="-9.0" width="30.0" height="18.0" rx="5.0" transform="translate(636.9 322.5) rotate(-52.5)" fill="none" stroke="#c9c9c9" stroke-width="0.75"/>
<path d="M726.2 269.4L742.1 281.6M724.3 272.0L740.1 284.1M722.3 274.5L738.2 286.7M720.3 277.1L736.2 289.3M718.3 279.7L734.2 291.9M716.4 282.3L732.2 294.4M714.4 284.8L730.2 297.0M712.4 287.4L728.3 299.6M710.4 290.0L726.3 302.2M708.4 292.6L724.3 304.8M706.5 295.2L722.3 307.3M704.5 297.7L720.4 309.9M702.5 300.3L718.4 312.5M700.5 302.9L716.4 315.1M698.6 305.5L714.4 317.6M696.6 308.1L712.4 320.2M694.6 310.6L710.5 322.8M692.6 313.2L708.5 325.4M690.6 315.8L706.5 328.0M688.7 318.4L704.5 330.5M686.7 320.9L702.5 333.1M684.7 323.5L700.6 335.7M682.7 326.1L698.6 338.3M680.7 328.7L696.6 340.9M678.8 331.3L694.6 343.4M676.8 333.8L692.7 346.0M674.8 336.4L690.7 348.6M672.8 339.0L688.7 351.2M670.9 341.6L686.7 353.7M668.9 344.1L684.7 356.3M666.9 346.7L682.8 358.9M664.9 349.3L680.8 361.5M662.9 351.9L678.8 364.1M661.0 354.5L676.8 366.6M659.0 357.0L674.8 369.2M657.0 359.6L672.9 371.8M655.0 362.2L670.9 374.4" fill="none" stroke="#cccccc" stroke-width="0.70"/>
<line x1="726.2" y1="269.4" x2="655.0" y2="362.2" stroke="#cccccc" stroke-width="0.70"/>
<line x1="734.2" y1="275.5" x2="663.0" y2="368.3" stroke="#cccccc" stroke-width="0.70"/>
<line x1="746.2" y1="320.0" x2="693.8" y2="388.1" stroke="#c9c9c9" stroke-width="0.75"/>
<line x1="762.5" y1="298.8" x2="746.2" y2="320.0" stroke="#c9c9c9" stroke-width="0.75"/>
<line x1="815.0" y1="336.2" x2="746.2" y2="427.5" stroke="#c9c9c9" stroke-width="0.75"/>
<rect x="-7.5" y="-7.5" width="15.0" height="15.0" rx="0.0" transform="translate(733.1 320.6) rotate(37.5)" fill="none" stroke="#c9c9c9" stroke-width="0.75" stroke-dasharray="1.2 1.4"/>
<ellipse rx="2.5" ry="2.5" transform="translate(732.5 315.6) rotate(0.0)" fill="none" stroke="#c9c9c9" stroke-width="0.75"/>
<ellipse rx="2.5" ry="2.5" transform="translate(738.2 320.0) rotate(0.0)" fill="none" stroke="#c9c9c9" stroke-width="0.75"/>
<ellipse rx="2.5" ry="2.5" transform="translate(728.1 321.3) rotate(0.0)" fill="none" stroke="#c9c9c9" stroke-width="0.75"/>
<ellipse rx="2.5" ry="2.5" transform="translate(733.8 325.7) rotate(0.0)" fill="none" stroke="#c9c9c9" stroke-width="0.75"/>
<rect x="-7.5" y="-7.5" width="15.0" height="15.0" rx="0.0" transform="translate(771.2 376.2) rotate(37.5)" fill="none" stroke="#c9c9c9" stroke-width="0.75" stroke-dasharray="1.2 1.4"/>
<ellipse rx="2.5" ry="2.5" transform="translate(770.6 371.2) rotate(0.0)" fill="none" stroke="#c9c9c9" stroke-width="0.75"/>
<ellipse rx="2.5" ry="2.5" transform="translate(776.3 375.6) rotate(0.0)" fill="none" stroke="#c9c9c9" stroke-width="0.75"/>
<ellipse rx="2.5" ry="2.5" transform="translate(766.2 376.9) rotate(0.0)" fill="none" stroke="#c9c9c9" stroke-width="0.75"/>
<ellipse rx="2.5" ry="2.5" transform="translate(771.9 381.3) rotate(0.0)" fill="none" stroke="#c9c9c9" stroke-width="0.75"/>
<rect x="-7.5" y="-9.5" width="15.0" height="19.0" rx="0.0" transform="translate(707.5 353.8) rotate(37.5)" fill="none" stroke="#c9c9c9" stroke-width="0.75" stroke-dasharray="1.2 1.4"/>
<rect x="-5.5" y="-7.0" width="11.0" height="14.0" rx="0.0" transform="translate(707.5 353.8) rotate(37.5)" fill="none" stroke="#c9c9c9" stroke-width="0.75"/>
<rect x="-8.5" y="-8.5" width="17.0" height="17.0" rx="0.0" transform="translate(741.9 414.4) rotate(37.5)" fill="none" stroke="#c9c9c9" stroke-width="0.75" stroke-dasharray="1.5 1.5"/>
<line x1="740.3" y1="402.5" x2="743.4" y2="426.3" stroke="#c9c9c9" stroke-width="0.75" stroke-dasharray="1.5 1.5"/>
<line x1="753.8" y1="412.8" x2="730.0" y2="415.9" stroke="#c9c9c9" stroke-width="0.75" stroke-dasharray="1.5 1.5"/>
<path d="M776.3 336.9A28.4 28.4 0 0 1 769.5 301.3" fill="none" stroke="#c9c9c9" stroke-width="0.75" stroke-dasharray="1.2 1.6"/>
<line x1="794.4" y1="315.0" x2="776.2" y2="336.9" stroke="#c9c9c9" stroke-width="0.75"/>
<line x1="795.6" y1="316.0" x2="777.5" y2="337.9" stroke="#c9c9c9" stroke-width="0.75"/>
<line x1="773.1" y1="298.8" x2="796.9" y2="316.5" stroke="#c9c9c9" stroke-width="0.75" stroke-dasharray="1.2 1.6"/>
<line x1="771.9" y1="300.2" x2="795.6" y2="318.0" stroke="#c9c9c9" stroke-width="0.75" stroke-dasharray="1.2 1.6"/>
<path d="M698.9 392.6A29.0 29.0 0 0 1 735.1 390.2" fill="none" stroke="#c9c9c9" stroke-width="0.75" stroke-dasharray="1.2 1.6"/>
<line x1="735.0" y1="391.2" x2="718.8" y2="413.1" stroke="#c9c9c9" stroke-width="0.75"/>
<line x1="733.8" y1="390.2" x2="717.5" y2="412.1" stroke="#c9c9c9" stroke-width="0.75"/>
<line x1="696.2" y1="398.1" x2="718.8" y2="415.0" stroke="#c9c9c9" stroke-width="0.75" stroke-dasharray="1.2 1.6"/>
<line x1="697.5" y1="396.6" x2="720.0" y2="413.5" stroke="#c9c9c9" stroke-width="0.75" stroke-dasharray="1.2 1.6"/>
<rect x="-15.2" y="-63.4" width="30.3" height="126.8" rx="0.0" transform="translate(817.0 410.8) rotate(37.5)" fill="none" stroke="#c9c9c9" stroke-width="0.75"/>
<rect x="-8.5" y="-9.5" width="17.0" height="19.0" rx="0.0" transform="translate(813.0 407.0) rotate(37.5)" fill="none" stroke="#c9c9c9" stroke-width="0.75" stroke-dasharray="1.2 1.4"/>
<rect x="-6.0" y="-7.0" width="12.0" height="14.0" rx="0.0" transform="translate(813.5 406.5) rotate(37.5)" fill="none" stroke="#c9c9c9" stroke-width="0.75"/>
<rect x="-8.5" y="-8.5" width="17.0" height="17.0" rx="0.0" transform="translate(801.0 424.5) rotate(37.5)" fill="none" stroke="#c9c9c9" stroke-width="0.75"/>
<ellipse rx="7.5" ry="7.5" transform="translate(801.0 424.5) rotate(0.0)" fill="none" stroke="#c9c9c9" stroke-width="0.75"/>
<line x1="799.4" y1="412.6" x2="802.6" y2="436.4" stroke="#c9c9c9" stroke-width="0.75"/>
<line x1="812.9" y1="422.9" x2="789.1" y2="426.1" stroke="#c9c9c9" stroke-width="0.75"/>
<rect x="-4.2" y="-6.0" width="8.5" height="12.0" rx="0.0" transform="translate(839.0 413.4) rotate(37.5)" fill="none" stroke="#c9c9c9" stroke-width="0.75"/>
<rect x="-4.2" y="-6.0" width="8.5" height="12.0" rx="0.0" transform="translate(824.4 431.4) rotate(37.5)" fill="none" stroke="#c9c9c9" stroke-width="0.75"/>
<rect x="-4.2" y="-6.0" width="8.5" height="12.0" rx="0.0" transform="translate(811.0 449.4) rotate(37.5)" fill="none" stroke="#c9c9c9" stroke-width="0.75"/>
<rect x="-4.2" y="-6.0" width="8.5" height="12.0" rx="0.0" transform="translate(797.4 467.4) rotate(37.5)" fill="none" stroke="#c9c9c9" stroke-width="0.75"/>
<rect x="-15.7" y="-63.0" width="31.3" height="125.9" rx="0.0" transform="translate(879.5 458.8) rotate(37.5)" fill="none" stroke="#c9c9c9" stroke-width="0.75"/>
<rect x="-6.8" y="-7.0" width="13.5" height="14.0" rx="1.5" transform="translate(894.0 398.6) rotate(37.5)" fill="none" stroke="#c9c9c9" stroke-width="0.75"/>
<rect x="-6.8" y="-7.0" width="13.5" height="14.0" rx="1.5" transform="translate(880.6 416.6) rotate(37.5)" fill="none" stroke="#c9c9c9" stroke-width="0.75"/>
<rect x="-6.8" y="-7.0" width="13.5" height="14.0" rx="1.5" transform="translate(866.4 434.6) rotate(37.5)" fill="none" stroke="#c9c9c9" stroke-width="0.75"/>
<rect x="-6.8" y="-7.0" width="13.5" height="14.0" rx="1.5" transform="translate(852.6 452.6) rotate(37.5)" fill="none" stroke="#c9c9c9" stroke-width="0.75"/>
<rect x="-6.8" y="-7.0" width="13.5" height="14.0" rx="1.5" transform="translate(838.6 470.6) rotate(37.5)" fill="none" stroke="#c9c9c9" stroke-width="0.75"/>
<rect x="-6.8" y="-7.0" width="13.5" height="14.0" rx="1.5" transform="translate(824.6 489.0) rotate(37.5)" fill="none" stroke="#c9c9c9" stroke-width="0.75"/>
<rect x="-6.8" y="-7.0" width="13.5" height="14.0" rx="1.5" transform="translate(934.0 429.4) rotate(37.5)" fill="none" stroke="#c9c9c9" stroke-width="0.75"/>
<rect x="-6.8" y="-7.0" width="13.5" height="14.0" rx="1.5" transform="translate(920.4 447.4) rotate(37.5)" fill="none" stroke="#c9c9c9" stroke-width="0.75"/>
<rect x="-6.8" y="-7.0" width="13.5" height="14.0" rx="1.5" transform="translate(906.4 465.6) rotate(37.5)" fill="none" stroke="#c9c9c9" stroke-width="0.75"/>
<rect x="-6.8" y="-7.0" width="13.5" height="14.0" rx="1.5" transform="translate(892.6 483.6) rotate(37.5)" fill="none" stroke="#c9c9c9" stroke-width="0.75"/>
<rect x="-6.8" y="-7.0" width="13.5" height="14.0" rx="1.5" transform="translate(878.4 501.6) rotate(37.5)" fill="none" stroke="#c9c9c9" stroke-width="0.75"/>
<rect x="-6.8" y="-7.0" width="13.5" height="14.0" rx="1.5" transform="translate(864.6 519.4) rotate(37.5)" fill="none" stroke="#c9c9c9" stroke-width="0.75"/>
<polygon points="972.4,452.4 1040.9,504.9 1023.0,528.2 954.6,475.6" fill="none" stroke="#c9c9c9" stroke-width="0.75"/>
<line x1="966.9" y1="459.5" x2="1035.4" y2="512.1" stroke="#c9c9c9" stroke-width="0.75"/>
<line x1="989.5" y1="465.5" x2="971.7" y2="488.8" stroke="#c9c9c9" stroke-width="0.75"/>
<line x1="1006.6" y1="478.7" x2="988.8" y2="501.9" stroke="#c9c9c9" stroke-width="0.75"/>
<line x1="1023.7" y1="491.8" x2="1005.9" y2="515.0" stroke="#c9c9c9" stroke-width="0.75"/>
<polygon points="936.0,500.0 959.8,518.3 920.0,570.1 896.2,551.9" fill="none" stroke="#c9c9c9" stroke-width="0.75"/>
<line x1="942.3" y1="504.9" x2="902.5" y2="556.8" stroke="#c9c9c9" stroke-width="0.75"/>
<line x1="922.7" y1="517.3" x2="946.5" y2="535.6" stroke="#c9c9c9" stroke-width="0.75"/>
<line x1="909.5" y1="534.6" x2="933.3" y2="552.9" stroke="#c9c9c9" stroke-width="0.75"/>
<ellipse rx="13.6" ry="13.6" transform="translate(981.0 552.0) rotate(0.0)" fill="none" stroke="#c9c9c9" stroke-width="0.75"/>
<ellipse rx="13.6" ry="13.6" transform="translate(966.0 589.0) rotate(0.0)" fill="none" stroke="#c9c9c9" stroke-width="0.75"/>
<rect x="-4.7" y="-42.0" width="9.3" height="84.0" rx="0.0" transform="translate(1015.0 590.2) rotate(37.5)" fill="none" stroke="#c9c9c9" stroke-width="0.75"/>
<rect x="-1.3" y="-36.0" width="2.6" height="72.0" rx="0.0" transform="translate(1015.0 590.2) rotate(37.5)" fill="none" stroke="#c9c9c9" stroke-width="0.60"/>
<path d="M622.3 488.1L655.7 487.8M626.5 488.7L652.1 490.2M626.1 489.5L647.8 492.4M621.2 489.4L647.9 495.4M629.1 492.2L647.7 497.9M626.7 492.3L656.6 503.7M624.0 492.2L655.4 507.4M628.2 495.1L646.8 505.3M620.9 491.6L645.5 507.9M621.0 492.5L646.0 513.0M622.2 494.3L643.9 514.7M619.5 492.2L639.6 513.0M621.6 495.7L637.8 516.3M621.2 496.4L635.6 517.7M621.8 499.2L632.8 518.7M620.2 497.8L634.1 526.8M618.5 495.7L631.4 529.4M618.6 497.2L628.4 527.5M618.1 498.2L623.3 519.7M617.5 501.4L621.2 526.9M616.1 496.5L618.0 528.7M615.6 499.5L615.5 525.8M614.2 503.4L612.3 525.9M614.7 493.7L609.3 528.4M612.0 503.6L606.0 529.3M613.0 497.0L604.0 526.8M612.1 497.6L603.8 520.1M613.2 493.2L598.1 525.9M611.8 494.8L597.6 520.3M612.2 492.9L594.0 518.9M606.4 499.6L589.2 521.1M610.0 493.9L589.9 515.0M604.9 498.2L583.5 518.2M610.2 492.5L588.6 510.2M607.1 494.0L583.3 510.6M611.3 490.7L583.5 507.0M605.5 493.0L576.1 507.4M605.6 491.9L578.5 502.3M610.2 489.7L574.2 500.6M601.3 491.2L574.6 497.0M606.3 489.5L582.7 493.2M609.9 488.5L582.8 490.4M608.8 488.2L579.4 488.5M610.6 487.8L581.8 486.2M606.7 486.9L583.6 483.8M604.2 485.3L582.7 480.1M607.1 485.6L580.6 477.7M602.2 483.1L574.0 472.5M606.3 483.6L585.8 473.8M607.9 483.8L584.7 470.9M610.1 484.2L589.2 469.6M607.3 481.2L589.5 466.5M611.7 484.5L587.3 461.8M605.9 477.3L588.5 457.7M609.9 481.1L594.1 461.7M609.6 479.1L592.5 453.4M611.8 481.7L594.3 451.7M609.6 475.0L598.1 449.8M611.0 475.8L603.3 455.5M613.0 479.6L606.1 457.2M613.7 480.3L607.1 453.9M613.4 472.7L610.3 450.9M614.7 472.3L613.1 444.2M615.6 480.7L615.4 453.3M616.1 480.9L618.1 448.4M617.9 474.1L621.9 450.6M618.8 474.7L623.2 455.9M620.1 473.8L628.2 448.3M619.4 478.6L628.4 456.4M619.4 480.3L634.3 450.5M620.4 480.1L634.7 456.4M623.1 477.5L635.3 460.3M619.7 482.8L642.1 453.8M620.2 483.3L644.8 457.4M624.7 480.0L642.7 463.9M620.6 484.1L640.8 468.1M625.8 481.4L647.9 467.0M624.1 483.4L653.1 467.3M622.2 485.0L647.5 473.3M622.7 485.2L652.1 473.4M624.8 485.2L647.6 477.9M624.3 486.3L652.5 480.3M630.4 485.9L652.5 482.7M626.1 487.5L654.2 485.9" fill="none" stroke="#e0e0e0" stroke-width="0.85"/>
<ellipse rx="16.0" ry="16.0" transform="translate(1050.6 594.0) rotate(0.0)" fill="#efefef" stroke="none" stroke-width="0.75"/>
<path d="M1046.0 578.3H1048.2M1048.9 578.3H1052.0M1052.4 578.3H1055.7M1041.8 580.3H1048.2M1049.0 580.3H1053.0M1053.8 580.3H1059.1M1039.0 582.4H1044.3M1044.9 582.4H1048.6M1049.6 582.4H1054.7M1055.5 582.4H1062.1M1037.6 584.4H1043.3M1044.1 584.4H1049.1M1050.1 584.4H1054.8M1055.6 584.4H1060.5M1061.7 584.4H1064.1M1036.8 586.5H1040.4M1041.3 586.5H1048.9M1053.6 586.5H1056.0M1056.6 586.5H1059.0M1060.0 586.5H1065.3M1035.2 588.5H1041.5M1042.4 588.5H1045.3M1046.4 588.5H1054.2M1054.8 588.5H1062.5M1063.2 588.5H1066.2M1035.3 590.6H1038.3M1039.0 590.6H1044.1M1044.8 590.6H1047.9M1048.6 590.6H1054.9M1055.3 590.6H1060.7M1061.4 590.6H1063.5M1064.2 590.6H1066.7M1034.2 592.6H1042.1M1043.2 592.6H1051.0M1056.1 592.6H1059.7M1060.2 592.6H1064.8M1065.9 592.6H1067.0M1034.3 594.7H1041.8M1042.6 594.7H1048.8M1052.4 594.7H1054.8M1055.7 594.7H1062.5M1063.0 594.7H1067.1M1035.2 596.7H1039.9M1040.6 596.7H1045.9M1047.0 596.7H1050.7M1056.8 596.7H1059.8M1060.2 596.7H1063.4M1064.1 596.7H1066.9M1035.1 598.8H1040.1M1040.6 598.8H1044.7M1045.1 598.8H1048.6M1056.0 598.8H1060.9M1062.0 598.8H1064.6M1036.0 600.8H1041.0M1042.1 600.8H1046.4M1047.2 600.8H1053.3M1054.5 600.8H1058.6M1059.7 600.8H1065.6M1037.1 602.9H1041.2M1041.6 602.9H1044.4M1044.9 602.9H1051.3M1051.9 602.9H1054.9M1055.4 602.9H1062.4M1063.5 602.9H1064.5M1038.5 604.9H1042.3M1043.0 604.9H1046.0M1046.7 604.9H1050.3M1051.5 604.9H1059.3M1060.1 604.9H1062.9M1040.7 607.0H1044.9M1045.3 607.0H1049.6M1050.4 607.0H1055.4M1055.9 607.0H1060.8M1044.1 609.0H1046.6M1047.4 609.0H1049.6M1050.0 609.0H1053.9M1054.4 609.0H1057.4" fill="none" stroke="#b0b0b0" stroke-width="1.05"/>
<ellipse rx="16.0" ry="16.0" transform="translate(1054.0 653.5) rotate(0.0)" fill="#efefef" stroke="none" stroke-width="0.75"/>
<path d="M1049.7 637.8H1055.6M1056.6 637.8H1059.1M1045.1 639.8H1053.0M1053.5 639.8H1059.8M1060.7 639.8H1063.0M1043.2 641.9H1048.9M1049.9 641.9H1056.8M1057.3 641.9H1062.4M1063.2 641.9H1065.7M1041.4 643.9H1046.9M1048.0 643.9H1054.1M1055.0 643.9H1058.4M1058.8 643.9H1061.6M1062.3 643.9H1065.0M1066.0 643.9H1067.5M1039.9 646.0H1046.0M1046.8 646.0H1048.8M1049.9 646.0H1056.4M1057.2 646.0H1062.4M1063.3 646.0H1065.7M1066.7 646.0H1068.7M1038.7 648.0H1045.1M1045.6 648.0H1052.1M1059.0 648.0H1065.1M1066.1 648.0H1069.6M1037.9 650.1H1040.8M1041.4 650.1H1047.9M1048.5 650.1H1053.9M1057.6 650.1H1063.8M1064.7 650.1H1068.5M1069.3 650.1H1070.1M1037.7 652.1H1045.0M1045.6 652.1H1053.5M1057.8 652.1H1065.6M1066.3 652.1H1070.0M1038.5 654.2H1041.7M1042.6 654.2H1045.4M1046.3 654.2H1054.0M1062.5 654.2H1068.7M1069.3 654.2H1070.5M1037.8 656.2H1039.8M1040.6 656.2H1045.3M1045.9 656.2H1048.8M1049.4 656.2H1053.3M1054.4 656.2H1056.4M1057.5 656.2H1060.2M1061.3 656.2H1067.6M1068.7 656.2H1070.3M1038.6 658.3H1046.6M1047.5 658.3H1051.6M1056.5 658.3H1063.5M1064.1 658.3H1069.8M1039.3 660.3H1044.3M1044.9 660.3H1049.1M1050.3 660.3H1057.6M1058.6 660.3H1064.4M1065.5 660.3H1069.0M1040.8 662.4H1043.1M1044.1 662.4H1048.8M1049.8 662.4H1055.7M1056.3 662.4H1058.6M1059.7 662.4H1062.5M1063.3 662.4H1067.4M1042.4 664.4H1050.3M1050.9 664.4H1056.8M1057.4 664.4H1062.8M1063.5 664.4H1066.3M1044.0 666.5H1051.5M1052.3 666.5H1055.6M1056.7 666.5H1064.2M1047.4 668.5H1050.5M1051.0 668.5H1055.1M1055.5 668.5H1059.0M1059.6 668.5H1060.8" fill="none" stroke="#b0b0b0" stroke-width="1.05"/>
<ellipse rx="16.0" ry="16.0" transform="translate(995.0 665.5) rotate(0.0)" fill="#efefef" stroke="none" stroke-width="0.75"/>
<path d="M990.7 649.8H995.2M995.9 649.8H1000.1M986.1 651.8H988.4M989.1 651.8H996.9M997.4 651.8H1002.4M1003.3 651.8H1004.3M983.5 653.9H987.0M987.7 653.9H992.4M993.6 653.9H1000.7M1001.8 653.9H1003.9M1004.3 653.9H1006.7M982.0 655.9H987.5M987.9 655.9H992.3M993.4 655.9H1000.4M1001.5 655.9H1008.5M980.4 658.0H983.3M984.2 658.0H990.2M991.4 658.0H997.7M998.7 658.0H1005.2M1006.0 658.0H1009.7M980.2 660.0H983.6M984.7 660.0H990.6M991.3 660.0H994.0M1000.9 660.0H1003.4M1004.2 660.0H1009.7M979.1 662.1H984.7M985.1 662.1H988.9M989.7 662.1H997.4M998.3 662.1H1005.6M1006.4 662.1H1009.8M979.5 664.1H985.7M986.4 664.1H988.5M989.3 664.1H995.4M1000.8 664.1H1004.1M1004.6 664.1H1008.6M1009.3 664.1H1011.4M979.3 666.2H985.7M986.6 666.2H989.8M991.0 666.2H994.8M1000.3 666.2H1004.0M1005.2 666.2H1010.2M979.0 668.2H983.5M984.4 668.2H992.1M992.6 668.2H997.0M997.5 668.2H1005.4M1005.9 668.2H1008.2M1008.6 668.2H1011.3M980.1 670.3H986.5M987.7 670.3H995.3M995.9 670.3H999.1M1000.1 670.3H1002.2M1003.2 670.3H1007.4M1008.1 670.3H1010.8M980.0 672.3H983.7M984.4 672.3H992.1M992.6 672.3H1000.4M1000.9 672.3H1005.1M1006.1 672.3H1010.0M981.2 674.4H986.0M986.7 674.4H994.2M994.8 674.4H999.0M1000.1 674.4H1002.3M1003.0 674.4H1008.9M982.7 676.4H984.9M985.4 676.4H992.9M993.5 676.4H1000.0M1001.1 676.4H1005.1M1005.7 676.4H1007.3M985.1 678.5H991.4M992.1 678.5H995.7M996.1 678.5H1002.6M1003.8 678.5H1005.2M988.3 680.5H991.7M992.4 680.5H1000.2" fill="none" stroke="#b0b0b0" stroke-width="1.05"/>
<ellipse rx="16.0" ry="16.0" transform="translate(1060.6 713.8) rotate(0.0)" fill="#efefef" stroke="none" stroke-width="0.75"/>
<path d="M1055.9 698.1H1059.4M1060.2 698.1H1065.1M1051.5 700.1H1058.3M1059.3 700.1H1066.3M1067.3 700.1H1069.9M1049.2 702.2H1053.4M1054.4 702.2H1056.9M1057.4 702.2H1063.9M1064.5 702.2H1066.9M1067.3 702.2H1072.3M1048.1 704.2H1055.4M1056.6 704.2H1060.2M1060.7 704.2H1063.3M1064.0 704.2H1070.3M1071.1 704.2H1074.1M1046.5 706.3H1052.6M1053.6 706.3H1060.6M1061.6 706.3H1064.3M1064.9 706.3H1070.3M1071.0 706.3H1075.3M1045.3 708.3H1048.7M1049.3 708.3H1056.6M1057.4 708.3H1061.4M1070.7 708.3H1076.2M1045.4 710.4H1048.1M1048.8 710.4H1055.8M1056.8 710.4H1064.3M1064.7 710.4H1068.5M1069.0 710.4H1072.1M1073.3 710.4H1076.7M1044.5 712.4H1051.7M1052.5 712.4H1056.0M1057.1 712.4H1064.7M1065.2 712.4H1070.8M1071.7 712.4H1075.0M1075.7 712.4H1077.0M1044.4 714.5H1050.0M1050.9 714.5H1054.1M1054.5 714.5H1058.5M1063.1 714.5H1069.9M1070.7 714.5H1073.1M1073.6 714.5H1077.1M1045.0 716.5H1047.5M1048.0 716.5H1054.2M1054.9 716.5H1058.6M1067.9 716.5H1072.0M1072.7 716.5H1076.9M1045.2 718.6H1048.4M1049.3 718.6H1052.6M1053.0 718.6H1060.4M1069.1 718.6H1073.9M1074.4 718.6H1076.4M1046.2 720.6H1053.7M1054.2 720.6H1059.9M1066.2 720.6H1071.4M1072.5 720.6H1075.2M1047.5 722.7H1055.3M1055.9 722.7H1058.6M1059.8 722.7H1067.6M1068.4 722.7H1070.7M1071.9 722.7H1074.5M1048.9 724.7H1055.8M1056.4 724.7H1063.1M1063.6 724.7H1068.1M1069.1 724.7H1072.9M1050.7 726.8H1055.1M1055.9 726.8H1060.2M1060.7 726.8H1064.2M1065.1 726.8H1070.8M1054.4 728.8H1060.9M1061.4 728.8H1067.4" fill="none" stroke="#b0b0b0" stroke-width="1.05"/>
<ellipse rx="14.0" ry="14.0" transform="translate(1023.0 628.8) rotate(0.0)" fill="#ececec" stroke="none" stroke-width="0.75"/>
<path d="M1027.9 628.8L1037.8 628.9M1026.9 629.0L1037.6 629.5M1028.6 629.4L1036.9 630.2M1024.1 629.0L1037.6 631.1M1025.6 629.3L1038.1 632.0M1027.1 629.9L1035.3 632.3M1024.7 629.3L1035.0 632.7M1024.5 629.4L1036.1 633.8M1024.2 629.3L1036.6 634.9M1028.5 631.5L1036.9 635.6M1024.2 629.5L1035.4 635.9M1029.4 632.9L1033.6 635.6M1029.4 633.6L1035.2 638.0M1024.8 630.3L1035.6 639.3M1028.7 633.9L1035.0 639.6M1027.7 633.3L1034.6 640.1M1025.4 631.3L1033.5 640.1M1027.7 634.4L1031.5 639.0M1024.2 630.4L1031.2 640.4M1024.3 630.9L1030.0 640.0M1024.6 631.6L1029.1 639.3M1024.0 630.7L1030.5 643.2M1025.9 635.5L1028.1 640.5M1023.6 630.5L1028.0 642.3M1024.1 632.2L1027.8 644.0M1024.3 633.7L1027.1 644.2M1024.8 636.5L1026.3 643.3M1024.1 635.3L1025.1 641.8M1023.4 633.8L1024.2 642.4M1023.2 632.9L1023.5 641.6M1023.0 630.1L1022.8 644.5M1022.8 634.3L1022.3 645.2M1022.4 634.4L1021.6 642.1M1022.8 630.0L1021.3 641.4M1022.1 632.7L1020.0 642.8M1022.5 630.7L1019.4 641.3M1022.6 629.9L1019.2 640.2M1022.4 630.4L1018.2 641.5M1021.0 633.5L1017.2 642.2M1020.6 633.6L1016.7 641.5M1019.3 635.4L1016.6 640.2M1022.1 630.2L1015.1 641.4M1019.1 634.0L1014.7 639.8M1022.3 629.6L1013.7 640.5M1020.7 631.4L1013.0 639.9M1017.7 634.2L1012.2 639.6M1017.6 633.8L1014.0 637.1M1020.0 631.2L1012.8 637.0M1017.8 632.7L1013.4 636.1M1016.6 632.9L1012.4 635.7M1018.5 631.5L1010.7 636.1M1017.0 631.8L1011.6 634.5M1020.2 630.1L1011.9 633.9M1016.9 631.0L1008.7 634.0M1016.5 631.1L1008.5 633.8M1017.0 630.4L1009.4 632.5M1021.3 629.2L1010.3 631.7M1019.7 629.4L1007.9 631.5M1016.1 629.5L1007.9 630.3M1018.1 629.1L1009.1 629.7M1018.3 628.7L1009.8 628.6M1015.3 628.4L1010.0 628.0M1021.9 628.7L1009.9 627.2M1016.9 627.9L1006.9 626.4M1019.8 628.1L1007.4 625.3M1020.4 628.1L1007.4 624.7M1017.4 627.0L1008.8 624.1M1019.0 627.2L1008.4 622.9M1016.6 625.9L1010.3 623.0M1018.6 626.5L1011.1 622.6M1018.3 626.2L1012.2 622.7M1021.3 627.7L1012.9 622.0M1016.9 624.5L1011.9 621.0M1022.1 628.1L1013.4 621.3M1019.0 625.1L1011.8 618.6M1022.0 627.8L1012.7 618.3M1018.5 623.8L1012.4 617.2M1022.1 627.6L1013.2 616.3M1018.6 622.6L1015.8 618.6M1022.0 627.3L1016.3 618.7M1019.7 623.0L1015.8 615.8M1020.6 623.9L1017.1 616.9M1022.3 627.3L1016.5 614.8M1021.8 625.8L1017.9 615.9M1022.1 626.2L1018.7 616.3M1022.1 625.3L1019.6 615.8M1022.1 624.4L1020.0 613.3M1022.8 627.6L1020.9 615.1M1022.3 622.4L1021.5 615.3M1022.8 624.0L1022.4 615.8M1023.0 627.2L1023.2 613.1M1023.0 627.8L1023.5 615.9M1023.9 621.0L1024.4 616.9M1023.7 624.4L1025.4 613.4M1023.9 624.4L1025.7 615.5M1023.8 626.1L1027.4 613.2M1023.8 626.4L1027.6 614.4M1023.6 627.1L1028.3 614.9M1025.5 622.8L1028.9 614.9M1025.5 624.0L1029.3 616.8M1024.9 625.5L1030.9 614.9M1026.8 622.7L1029.4 618.5M1024.6 626.5L1032.3 615.7M1025.3 626.0L1033.1 616.4M1025.8 625.6L1032.5 618.0M1027.5 624.4L1033.6 618.4M1025.4 626.6L1032.4 620.2M1027.4 625.3L1035.1 619.3M1026.3 626.4L1035.4 619.5M1024.6 627.8L1034.8 621.2M1025.3 627.5L1034.2 622.5M1028.3 626.1L1037.0 621.5M1024.9 627.9L1034.9 623.3M1027.3 627.1L1034.8 624.2M1025.2 628.1L1038.6 623.6M1024.7 628.4L1038.8 624.7M1026.6 628.0L1039.0 625.1M1029.1 627.9L1036.8 626.8M1028.4 628.2L1035.4 627.3M1026.7 628.6L1035.1 628.0" fill="none" stroke="#cccccc" stroke-width="0.70"/>
<path d="M1023.9 628.8L1033.5 628.8M1023.7 629.2L1031.4 632.8M1023.5 629.4L1028.7 635.8M1023.2 629.7L1025.0 637.7M1022.8 629.7L1020.9 637.7M1022.5 629.5L1016.0 637.8M1022.2 629.2L1012.8 633.6M1022.2 628.8L1013.7 628.7M1022.3 628.5L1016.2 625.6M1022.4 628.1L1016.4 620.6M1022.9 628.2L1021.0 619.9M1023.2 628.0L1025.0 620.0M1023.6 628.0L1028.0 622.6M1023.8 628.4L1031.1 625.0" fill="none" stroke="#ffffff" stroke-width="0.90"/>
<ellipse rx="14.0" ry="14.0" transform="translate(1028.0 690.6) rotate(0.0)" fill="#ececec" stroke="none" stroke-width="0.75"/>
<path d="M1035.8 690.6L1040.2 690.6M1030.1 690.7L1043.5 691.4M1032.6 691.2L1040.4 692.1M1032.7 691.4L1043.0 693.0M1033.4 691.7L1043.4 693.9M1031.7 691.6L1043.7 694.8M1033.5 692.3L1041.1 694.7M1029.7 691.3L1043.3 696.6M1029.3 691.2L1040.1 695.9M1029.0 691.1L1040.4 696.9M1033.1 693.5L1039.8 697.4M1030.2 692.0L1040.9 698.8M1031.7 693.4L1038.4 698.4M1030.9 693.0L1038.0 698.9M1032.8 694.8L1039.8 700.9M1031.0 693.6L1038.2 700.9M1033.2 696.3L1037.2 700.6M1032.2 695.9L1037.8 702.8M1029.8 693.1L1036.5 702.3M1031.8 696.3L1035.6 701.9M1029.4 693.1L1034.7 702.6M1029.8 694.1L1033.9 702.0M1030.6 696.1L1033.6 702.6M1029.1 693.5L1033.2 703.8M1029.7 695.8L1032.7 704.8M1030.0 697.8L1032.2 705.9M1029.5 697.2L1031.6 706.3M1028.3 692.6L1030.3 706.2M1028.1 691.7L1029.2 702.6M1028.2 696.2L1028.4 703.7M1028.0 692.6L1028.2 703.6M1027.8 694.0L1027.2 703.3M1027.2 697.1L1026.5 703.3M1027.1 695.8L1025.3 705.9M1026.4 697.7L1024.7 705.8M1027.4 692.9L1023.9 705.1M1026.1 696.5L1023.7 703.9M1026.2 695.1L1023.1 702.8M1027.2 692.4L1022.4 703.7M1026.1 694.4L1022.5 702.0M1025.8 694.5L1020.8 703.1M1027.4 691.5L1019.2 703.7M1025.1 694.6L1019.2 702.7M1025.7 693.4L1019.1 701.3M1027.0 691.7L1017.9 701.5M1027.1 691.4L1017.5 701.0M1022.4 695.6L1017.9 699.6M1024.4 693.4L1016.8 699.3M1027.0 691.3L1015.5 699.4M1025.2 692.4L1014.6 699.2M1024.3 692.8L1015.6 697.8M1025.8 691.7L1015.5 696.8M1023.5 692.6L1013.7 697.0M1021.7 693.1L1015.1 695.7M1025.2 691.5L1014.4 695.0M1022.6 691.9L1012.9 694.3M1024.9 691.3L1015.0 693.5M1022.6 691.4L1012.7 693.0M1022.0 691.3L1012.1 692.6M1026.7 690.7L1014.7 691.3M1025.7 690.6L1011.9 690.9M1022.4 690.3L1012.5 689.7M1022.8 690.0L1013.3 688.8M1022.2 689.7L1013.5 688.2M1025.6 690.1L1013.3 687.4M1021.9 689.0L1016.0 687.4M1026.8 690.2L1013.2 686.0M1022.8 688.5L1015.3 685.5M1022.1 687.9L1014.8 684.5M1025.2 689.2L1015.6 684.4M1024.5 688.6L1015.1 683.2M1026.9 689.8L1015.9 682.5M1026.5 689.6L1015.2 681.6M1022.2 685.9L1017.1 681.8M1025.2 688.2L1016.9 681.0M1022.5 684.9L1018.2 680.4M1026.8 689.3L1018.0 679.6M1026.7 689.0L1020.3 681.3M1024.5 686.0L1020.4 680.6M1027.1 689.2L1019.6 677.1M1027.4 689.6L1020.2 677.5M1025.2 685.2L1022.1 679.2M1025.3 684.8L1021.6 676.8M1025.9 684.9L1023.7 679.0M1026.2 684.9L1023.7 677.2M1027.3 687.9L1024.0 674.7M1027.8 689.5L1025.6 678.8M1027.0 684.0L1026.1 678.4M1027.3 684.5L1026.6 677.9M1027.8 686.2L1027.5 678.3M1028.0 685.6L1027.9 676.6M1028.1 688.6L1028.9 675.0M1028.5 685.1L1029.5 675.8M1028.6 686.9L1030.4 675.2M1029.5 684.3L1031.3 676.4M1028.4 689.2L1032.1 674.7M1030.2 684.2L1032.3 677.8M1030.8 683.3L1033.7 675.9M1029.3 687.7L1033.7 677.9M1029.7 687.4L1035.1 677.3M1031.7 684.3L1035.9 677.1M1028.5 689.7L1035.1 679.5M1031.0 686.5L1037.2 677.9M1028.8 689.6L1038.1 678.5M1032.8 685.4L1037.9 679.9M1032.9 685.6L1039.0 679.4M1033.5 685.7L1038.1 681.6M1031.7 687.5L1039.9 680.6M1033.0 686.9L1041.0 680.9M1032.4 687.7L1040.5 682.3M1030.1 689.4L1039.4 684.0M1033.9 687.7L1040.6 684.3M1034.0 687.8L1042.0 684.1M1032.7 688.7L1042.9 684.7M1032.4 689.2L1041.5 686.4M1030.2 690.0L1040.4 687.3M1033.8 689.3L1041.3 687.6M1031.8 690.0L1042.2 688.4M1029.3 690.4L1044.4 688.6M1029.7 690.5L1042.8 689.7" fill="none" stroke="#cccccc" stroke-width="0.70"/>
<path d="M1028.6 690.6L1038.0 690.7M1028.7 690.9L1034.4 693.6M1028.6 691.4L1035.2 699.3M1028.2 691.4L1029.9 698.7M1027.8 691.3L1025.3 702.0M1027.4 691.3L1020.5 699.8M1027.5 690.8L1020.8 694.1M1027.5 690.6L1020.7 690.7M1027.2 690.2L1019.6 686.5M1027.4 689.8L1023.5 684.8M1027.8 689.9L1026.3 683.2M1028.2 690.0L1030.4 681.1M1028.6 689.8L1034.5 682.5M1028.7 690.3L1035.0 687.2" fill="none" stroke="#ffffff" stroke-width="0.90"/>
<g transform="translate(994.0 243.0)" fill="none" stroke="#cfcfcf" stroke-width="0.80">
<path d="M26 0.5 H132 C150 0.5 158.0 12 158.0 30.8 C158.0 49.5 150 61.0 132 61.0 H26 C9 61.0 0.5 49.5 0.5 30.8 C0.5 12 9 0.5 26 0.5Z"/>
<path d="M5 30.8 C5 18 10 12 24 10 C34 8 44 6.5 56 6.5 H125 C140 7 153.5 14 153.5 30.8 C153.5 47.5 140 54.5 125 55.0 H56 C44 55.0 34 53.5 24 51.5 C10 49.5 5 43.5 5 30.8 Z"/>
<path d="M45 8 Q40 30.8 45 53.5"/>
<path d="M67 12 Q64.5 30.8 67 49.5"/>
<path d="M67 12 H118 M67 49.5 H118"/>
<path d="M118 10 Q120 30.8 118 51.5"/>
<path d="M141 9 Q146 30.8 141 52.5"/>
<path d="M53 5 L67 12 M53 56.5 L67 49.5 M118 10 L134 6 M118 51.5 L134 55.5"/>
</g>
<g transform="translate(994.0 326.5)" fill="none" stroke="#cfcfcf" stroke-width="0.80">
<path d="M26 0.5 H132 C150 0.5 158.0 12 158.0 30.8 C158.0 49.5 150 61.0 132 61.0 H26 C9 61.0 0.5 49.5 0.5 30.8 C0.5 12 9 0.5 26 0.5Z"/>
<path d="M5 30.8 C5 18 10 12 24 10 C34 8 44 6.5 56 6.5 H125 C140 7 153.5 14 153.5 30.8 C153.5 47.5 140 54.5 125 55.0 H56 C44 55.0 34 53.5 24 51.5 C10 49.5 5 43.5 5 30.8 Z"/>
<path d="M45 8 Q40 30.8 45 53.5"/>
<path d="M67 12 Q64.5 30.8 67 49.5"/>
<path d="M67 12 H118 M67 49.5 H118"/>
<path d="M118 10 Q120 30.8 118 51.5"/>
<path d="M141 9 Q146 30.8 141 52.5"/>
<path d="M53 5 L67 12 M53 56.5 L67 49.5 M118 10 L134 6 M118 51.5 L134 55.5"/>
</g>
<polygon points="374.0,204.4 729.6,204.4 724.4,221.6 386.4,221.6 375.6,262.0 566.0,317.6 560.0,345.6 553.6,344.0 559.0,323.0 495.0,306.0 490.0,325.6 483.0,323.6 488.0,303.6 357.0,264.4" fill="#2a2a2a" />
<polygon points="994.0,204.4 1152.0,204.4 1153.0,221.6 994.0,221.6" fill="#2a2a2a" />
<polygon points="279.4,526.0 296.5,530.6 217.0,808.0 196.0,813.0" fill="#2a2a2a" />
<polygon points="527.4,557.0 543.6,561.6 494.4,732.4 475.0,737.6" fill="#2a2a2a" />
<polygon points="846.5,294.3 836.5,307.5 1027.5,454.0 1037.8,441.5" fill="#2a2a2a" />
<polygon points="1066.0,462.6 1112.4,498.0 1101.6,512.2 1077.0,494.0 1097.0,771.0 1181.0,835.6 1161.0,556.0 1133.6,536.0 1143.6,521.6 1177.0,547.0 1200.6,872.0 1089.6,787.0" fill="#2a2a2a" />
<polygon points="536.0,221.0 542.3,221.0 528.8,271.3 546.3,276.0 545.6,281.0 521.3,274.4" fill="#2a2a2a" />
<polygon points="588.5,221.0 594.4,221.0 574.8,289.4 570.3,288.1" fill="#2a2a2a" />
<line x1="337.0" y1="370.1" x2="459.0" y2="405.6" stroke="#2a2a2a" stroke-width="5.2"/>
<polygon points="472.0,352.5 481.5,355.0 451.6,460.0 443.6,458.0" fill="#2a2a2a" />
<line x1="506.5" y1="364.5" x2="549.0" y2="377.0" stroke="#2a2a2a" stroke-width="5.4"/>
<polygon points="541.5,373.5 550.5,376.0 519.5,479.5 511.0,477.0" fill="#2a2a2a" />
<line x1="476.0" y1="465.5" x2="517.0" y2="477.5" stroke="#2a2a2a" stroke-width="5.6"/>
<line x1="306.5" y1="474.2" x2="503.0" y2="531.0" stroke="#2a2a2a" stroke-width="5.4"/>
<polygon points="434.0,487.0 442.0,489.0 436.5,511.0 428.5,509.0" fill="#2a2a2a" />
<polygon points="394.8,501.0 400.4,502.6 395.0,523.8 389.4,522.5" fill="#2a2a2a" />
<polygon points="505.0,506.9 510.6,508.6 497.5,554.8 491.9,553.1" fill="#2a2a2a" />
<polygon points="381.0,548.0 386.4,549.6 361.5,640.0 356.0,638.0" fill="#2a2a2a" />
<line x1="342.2" y1="575.0" x2="377.0" y2="585.2" stroke="#2a2a2a" stroke-width="7.2"/>
<line x1="299.0" y1="624.7" x2="465.0" y2="673.2" stroke="#2a2a2a" stroke-width="5.2"/>
<polygon points="464.0,648.0 469.6,649.6 462.5,675.0 456.8,673.4" fill="#2a2a2a" />
<polygon points="484.4,577.8 490.0,579.4 477.5,624.0 471.9,622.5" fill="#2a2a2a" />
<line x1="729.0" y1="265.4" x2="771.5" y2="298.8" stroke="#2a2a2a" stroke-width="5.2"/>
<line x1="746.5" y1="281.0" x2="674.0" y2="377.1" stroke="#2a2a2a" stroke-width="6.0"/>
<line x1="654.2" y1="363.3" x2="696.8" y2="396.4" stroke="#2a2a2a" stroke-width="5.8"/>
<line x1="795.5" y1="315.2" x2="818.4" y2="332.8" stroke="#2a2a2a" stroke-width="5.4"/>
<polygon points="793.6,317.0 801.4,320.6 728.1,416.9 718.6,416.0" fill="#2a2a2a" />
<polygon points="718.6,415.6 740.6,433.1 743.8,429.4 725.0,414.4" fill="#2a2a2a" />
<circle cx="585.0" cy="381.8" r="3.3" fill="#2a2a2a"/>
<circle cx="650.0" cy="431.6" r="3.3" fill="#2a2a2a"/>
<circle cx="760.0" cy="516.0" r="3.3" fill="#2a2a2a"/>
<circle cx="870.0" cy="600.6" r="3.3" fill="#2a2a2a"/>
<circle cx="980.0" cy="685.0" r="3.3" fill="#2a2a2a"/>
<polygon points="794.0,232.0 791.6,246.4 805.0,239.2" fill="#2a2a2a" />
</svg>
</body></html>
